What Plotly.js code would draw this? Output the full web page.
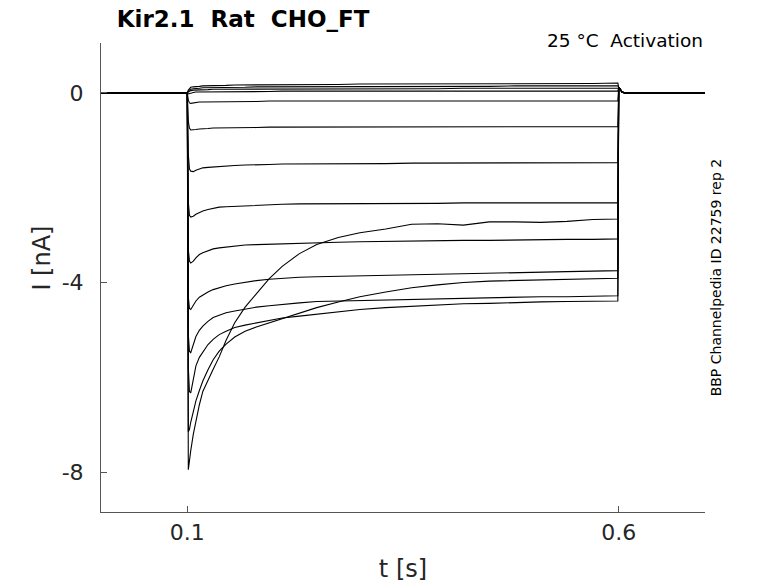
<!DOCTYPE html>
<html>
<head>
<meta charset="utf-8">
<script src="https://cdn.plot.ly/plotly-3.0.1.min.js"></script>
<style>
  html, body { margin: 0; padding: 0; background: #fff; }
  #chart { width: 778px; height: 583px; }
</style>
</head>
<body>
<div id="chart"></div>
<script>
/* Kir2.1 activation family: holding 0..0.1 s, test pulse 0.1..0.6 s, back to holding. */

const FONT = '"DejaVu Sans", sans-serif';
const AXIS = "#555555";
const LABEL = "#262626";

// holding segments (s, nA)
const PRE_T = [0, 0.1];
const PRE_I = [0, 0];
const POST_T = [0.6, 0.602, 0.604, 0.607, 0.7];
const POST_I = [0.12, 0.06, 0.02, 0, 0];

// sample times inside the test pulse (s)
const STEP_T = [0.1012, 0.1025, 0.104, 0.107, 0.11, 0.114, 0.118, 0.124, 0.13, 0.137,
  0.145, 0.155, 0.167, 0.18, 0.195, 0.21, 0.23, 0.25, 0.275, 0.3,
  0.33, 0.36, 0.39, 0.42, 0.45, 0.48, 0.51, 0.54, 0.57, 0.599];

// current during the pulse, one array per sweep (nA)
const SWEEP_Z1 = [0.06, 0.1, 0.12, 0.13, 0.14, 0.14, 0.15, 0.15, 0.16, 0.16, 0.16, 0.17, 0.17, 0.17, 0.17, 0.18, 0.18, 0.18, 0.18, 0.19, 0.19, 0.19, 0.19, 0.19, 0.2, 0.2, 0.2, 0.2, 0.2, 0.21];
const SWEEP_Z2 = [0.04, 0.07, 0.08, 0.09, 0.1, 0.1, 0.11, 0.11, 0.11, 0.12, 0.12, 0.12, 0.12, 0.13, 0.13, 0.13, 0.13, 0.13, 0.14, 0.14, 0.14, 0.14, 0.14, 0.14, 0.14, 0.15, 0.15, 0.15, 0.15, 0.15];
const SWEEP_Z3 = [0.02, 0.04, 0.05, 0.06, 0.06, 0.07, 0.07, 0.07, 0.08, 0.08, 0.08, 0.08, 0.08, 0.08, 0.09, 0.09, 0.09, 0.09, 0.09, 0.09, 0.09, 0.09, 0.09, 0.1, 0.1, 0.1, 0.1, 0.1, 0.1, 0.1];
const SWEEP_Z4 = [-0.02, -0.01, 0, 0.01, 0.02, 0.02, 0.02, 0.03, 0.03, 0.03, 0.03, 0.03, 0.03, 0.03, 0.03, 0.04, 0.04, 0.04, 0.04, 0.04, 0.04, 0.04, 0.04, 0.04, 0.04, 0.04, 0.04, 0.04, 0.04, 0.04];
const SWEEP_N1 = [-0.15, -0.21, -0.22, -0.21, -0.2, -0.19, -0.19, -0.19, -0.18, -0.18, -0.18, -0.18, -0.18, -0.18, -0.17, -0.17, -0.17, -0.17, -0.17, -0.17, -0.17, -0.17, -0.17, -0.17, -0.17, -0.17, -0.17, -0.17, -0.17, -0.17];
const SWEEP_N2 = [-0.6, -0.74, -0.78, -0.78, -0.77, -0.76, -0.75, -0.75, -0.74, -0.74, -0.74, -0.73, -0.73, -0.73, -0.72, -0.72, -0.72, -0.72, -0.72, -0.72, -0.72, -0.72, -0.72, -0.72, -0.71, -0.71, -0.71, -0.71, -0.71, -0.71];
const SWEEP_N3 = [-1.3, -1.6, -1.65, -1.66, -1.63, -1.6, -1.58, -1.57, -1.56, -1.55, -1.54, -1.53, -1.52, -1.52, -1.51, -1.5, -1.5, -1.5, -1.49, -1.49, -1.49, -1.48, -1.48, -1.48, -1.48, -1.48, -1.47, -1.47, -1.47, -1.47];
const SWEEP_N4 = [-2.3, -2.58, -2.62, -2.6, -2.56, -2.52, -2.49, -2.46, -2.43, -2.41, -2.4, -2.39, -2.38, -2.37, -2.36, -2.35, -2.34, -2.34, -2.34, -2.33, -2.33, -2.33, -2.33, -2.32, -2.32, -2.32, -2.32, -2.32, -2.32, -2.32];
const SWEEP_N5 = [-3.3, -3.55, -3.59, -3.55, -3.48, -3.41, -3.37, -3.33, -3.29, -3.27, -3.25, -3.23, -3.21, -3.2, -3.19, -3.18, -3.17, -3.16, -3.15, -3.14, -3.13, -3.12, -3.12, -3.11, -3.11, -3.1, -3.1, -3.09, -3.09, -3.08];
const SWEEP_N6 = [-4.3, -4.55, -4.57, -4.48, -4.39, -4.31, -4.26, -4.2, -4.15, -4.11, -4.07, -4.03, -3.99, -3.96, -3.93, -3.91, -3.89, -3.88, -3.87, -3.85, -3.84, -3.83, -3.82, -3.81, -3.8, -3.79, -3.78, -3.77, -3.76, -3.75];
const SWEEP_N7 = [-5.1, -5.45, -5.48, -5.3, -5.14, -5.01, -4.92, -4.82, -4.74, -4.69, -4.64, -4.6, -4.56, -4.52, -4.49, -4.46, -4.43, -4.4, -4.39, -4.38, -4.36, -4.35, -4.34, -4.33, -4.32, -4.31, -4.3, -4.3, -4.29, -4.28];
const SWEEP_N8 = [-5.8, -6.3, -6.33, -6.0, -5.76, -5.58, -5.46, -5.31, -5.2, -5.1, -5.03, -4.95, -4.9, -4.85, -4.8, -4.75, -4.71, -4.67, -4.61, -4.57, -4.53, -4.5, -4.47, -4.45, -4.44, -4.42, -4.41, -4.4, -4.4, -4.39];
const SWEEP_N9 = [-7.15, -7.1, -6.95, -6.7, -6.5, -6.28, -6.08, -5.84, -5.63, -5.45, -5.3, -5.15, -5.03, -4.94, -4.85, -4.77, -4.65, -4.53, -4.41, -4.3, -4.2, -4.11, -4.05, -4.0, -3.97, -3.96, -3.95, -3.94, -3.92, -3.91];
const SWEEP_N10 = [-7.95, -7.75, -7.55, -7.2, -6.9, -6.58, -6.3, -6.05, -5.83, -5.57, -5.22, -4.85, -4.52, -4.24, -3.92, -3.66, -3.39, -3.2, -3.05, -2.95, -2.87, -2.77, -2.76, -2.79, -2.72, -2.72, -2.73, -2.71, -2.67, -2.66];

const SWEEPS = [SWEEP_Z1, SWEEP_Z2, SWEEP_Z3, SWEEP_Z4, SWEEP_N1, SWEEP_N2, SWEEP_N3,
  SWEEP_N4, SWEEP_N5, SWEEP_N6, SWEEP_N7, SWEEP_N8, SWEEP_N9, SWEEP_N10];

const X_TICKS = [0.1, 0.6];
const X_TICKTEXT = ["0.1", "0.6"];
const Y_TICKS = [0, -4, -8];
const Y_TICKTEXT = ["0", "-4", "-8"];

const traces = SWEEPS.map((vals) => ({
  x: PRE_T.concat(STEP_T, POST_T),
  y: PRE_I.concat(vals, POST_I),
  mode: "lines",
  line: { color: "#000000", width: 1.1 },
  hoverinfo: "skip",
}));

const axisBase = {
  showline: true, linecolor: AXIS, linewidth: 1,
  showgrid: false, zeroline: false,
  ticks: "inside", ticklen: 6, tickcolor: AXIS, tickwidth: 1,
  tickmode: "array",
  tickfont: { family: FONT, size: 22, color: LABEL },
};

const layout = {
  width: 778, height: 583,
  paper_bgcolor: "#ffffff", plot_bgcolor: "#ffffff",
  margin: { l: 101, r: 73, t: 43, b: 71 },
  showlegend: false,
  font: { family: FONT, color: LABEL },
  title: {
    text: "Kir2.1\u00a0\u00a0Rat\u00a0\u00a0CHO_FT",
    font: { family: FONT, size: 23, color: "#000000", weight: "bold" },
    xref: "paper", x: 0.026, xanchor: "left",
    yref: "container", y: 0.968, yanchor: "middle",
  },
  xaxis: {
    ...axisBase,
    range: [0, 0.7],
    tickvals: X_TICKS, ticktext: X_TICKTEXT,
    ticklabelstandoff: 1,
    title: { text: "t [s]", font: { family: FONT, size: 24, color: LABEL }, standoff: 17 },
  },
  yaxis: {
    ...axisBase,
    range: [-8.844, 1.055],
    tickvals: Y_TICKS, ticktext: Y_TICKTEXT,
    ticklabelstandoff: 12,
  },
  annotations: [
    {
      text: "I [nA]", textangle: -90, showarrow: false,
      xref: "paper", x: -0.098, xanchor: "center",
      yref: "paper", y: 0.542, yanchor: "middle",
      font: { family: FONT, size: 24, color: LABEL },
    },
    {
      text: "25 °C\u00a0\u00a0Activation", showarrow: false,
      xref: "paper", x: 1.0, xanchor: "right",
      yref: "paper", y: 1.006, yanchor: "middle",
      font: { family: FONT, size: 18.5, color: "#000000" },
    },
    {
      text: "BBP Channelpedia ID 22759 rep 2", textangle: -90, showarrow: false,
      xref: "paper", x: 1.018, xanchor: "center",
      yref: "paper", y: 0.5, yanchor: "middle",
      font: { family: FONT, size: 14, color: "#000000" },
    },
  ],
};

Plotly.newPlot("chart", traces, layout, { displayModeBar: false, staticPlot: true });
</script>
</body>
</html>
